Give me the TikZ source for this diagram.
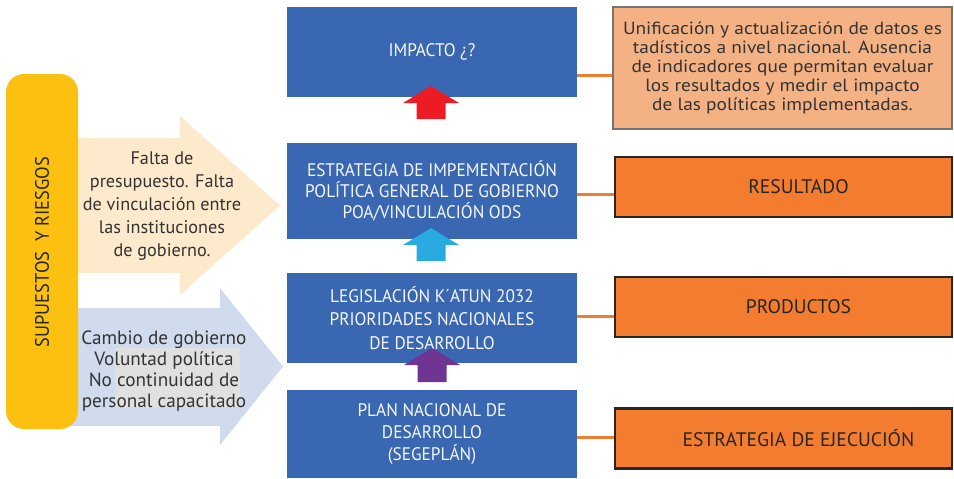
\documentclass[tikz,border=0pt]{standalone}
\usepackage{fontspec}
\setmainfont{PT Sans}
\newfontfamily\boxfont[FakeStretch=0.95]{PT Sans}
\newfontfamily\widefont[FakeStretch=1.1]{PT Sans}
\usetikzlibrary{positioning}
\definecolor{azul}{RGB}{58,103,177}
\definecolor{naranja}{RGB}{244,124,46}
\definecolor{durazno}{RGB}{244,177,131}
\definecolor{amarillo}{RGB}{251,192,16}
\definecolor{crema}{RGB}{253,233,204}
\definecolor{celeste}{RGB}{208,220,238}
\definecolor{linea}{RGB}{237,125,49}
\definecolor{texto}{RGB}{51,51,51}
\definecolor{rojo}{RGB}{237,28,36}
\definecolor{cian}{RGB}{41,171,226}
\definecolor{morado}{RGB}{111,53,146}

% block arrow pointing up: colour, centre x, tip y, bottom y
\newcommand{\flechaup}[4]{%
  \fill[#1] (#2-14.5,#4) -- (#2-14.5,#3+17) -- (#2-28,#3+17) -- (#2,#3)
    -- (#2+28,#3+17) -- (#2+14.5,#3+17) -- (#2+14.5,#4) -- cycle;}

\begin{document}
\begin{tikzpicture}[x=0.5pt,y=-0.5pt,
    nivel/.style={fill=azul, text=white!95!azul, minimum width=145pt, inner sep=0pt,
      align=center, font=\boxfont\fontsize{9.1}{10.4}\selectfont},
    meta/.style={fill=naranja, draw=black!85, line width=1.2pt, minimum width=168.5pt,
      minimum height=30pt, inner sep=0pt, text=black!85, font=\fontsize{9.8}{11}\selectfont},
    nota/.style={align=center, text=texto, inner sep=0pt},
    enlace/.style={linea, line width=1.5pt}]
\useasboundingbox (0,0) rectangle (954,478);

% left: assumptions and risks
\fill[crema] (70,138) -- (180,138) -- (180,116) -- (280,205.5) -- (180,295) -- (180,273) -- (70,273) -- cycle;
\fill[celeste] (70,308) -- (220,308) -- (220,288) -- (283,366.5) -- (220,445) -- (220,426) -- (70,426) -- cycle;
\fill[black!12] (115,348) rectangle (240,407);
\fill[amarillo, rounded corners=9pt] (6,74) rectangle (78,429);
\node[rotate=90, text=black!85, font=\boxfont\fontsize{9.7}{11}\selectfont] (sup) at (42,252) {SUPUESTOS\ \ Y RIESGOS};
\node[nota, font=\fontsize{9.1}{11.5}\selectfont] (falta) at (162,206)
  {Falta de\\presupuesto. Falta\\de vinculación entre\\las instituciones\\de gobierno.};
\node[nota, font=\fontsize{9.6}{10.5}\selectfont] (cambio) at (164,371)
  {Cambio de gobierno\\Voluntad política\\No continuidad de\\personal capacitado};

% centre: levels
\node[nivel, minimum height=45pt] (imp) at (432,52) {IMPACTO ¿?};
\node[nivel, minimum height=48pt] (estr) at (432,191)
  {ESTRATEGIA DE IMPEMENTACIÓN\\POLÍTICA GENERAL DE GOBIERNO\\POA/VINCULACIÓN ODS};
\node[nivel, minimum height=45pt] (legis) at (432,318)
  {\raisebox{2.5pt}{\parbox{140pt}{\centering\fontsize{9.1}{11.7}\selectfont LEGISLACIÓN K´ATUN 2032\\PRIORIDADES NACIONALES\\DE DESARROLLO}}};
\node[nivel, minimum height=44pt, font=\boxfont\fontsize{9.1}{10.8}\selectfont] (plan) at (432,434)
  {PLAN NACIONAL DE\\DESARROLLO\\(SEGEPLÁN)};

\flechaup{rojo}{431}{86}{119}
\flechaup{cian}{431}{228}{261}
\flechaup{morado}{432}{348}{382}

% right: results chain
\node[fill=durazno, draw=black!55, line width=0.6pt, minimum width=169.5pt, minimum height=61pt,
  nota, text=texto, font=\widefont\fontsize{8.8}{9.6}\selectfont] (unif) at (782.5,68)
  {Unificación y actualización de datos es\\tadísticos a nivel nacional. Ausencia\\de indicadores que permitan evaluar\\los resultados y medir el impacto\\de las políticas implementadas.};
\node[meta] (res) at (783.5,187) {\hspace*{15pt}RESULTADO};
\node[meta] (prod) at (783.5,307) {\hspace*{15pt}PRODUCTOS};
\node[meta] (ejec) at (783.5,438.5) {\hspace*{15pt}ESTRATEGIA DE EJECUCIÓN};

\draw[enlace] ([yshift=-11.5pt]imp.east) -- ([yshift=-11.5pt]imp.east -| unif.west);
\draw[enlace] ([yshift=-1.5pt]estr.east) -- ([yshift=-1.5pt]estr.east -| res.west);
\draw[enlace] ([yshift=1pt]legis.east) -- ([yshift=1pt]legis.east -| prod.west);
\draw[enlace] ([yshift=-1.75pt]plan.east) -- ([yshift=-1.75pt]plan.east -| ejec.west);
\end{tikzpicture}
\end{document}
